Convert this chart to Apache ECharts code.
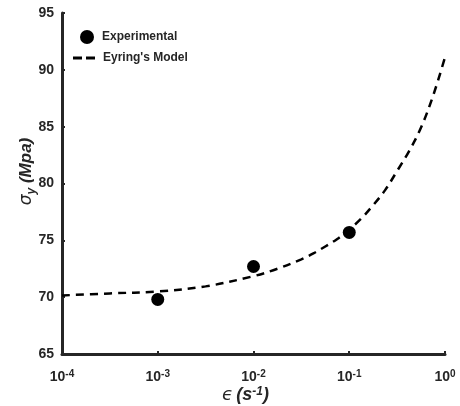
<!DOCTYPE html>
<html>
<head>
<meta charset="utf-8">
<script src="https://cdn.jsdelivr.net/npm/echarts@6/dist/echarts.min.js"></script>
<style>
  html, body { margin: 0; padding: 0; background: #ffffff; }
  #chart { width: 460px; height: 406px; }
</style>
</head>
<body>
<div id="chart"></div>
<script>
// Measured yield stress at three strain rates
const expStrainRate = [1e-3, 1e-2, 1e-1];
const expStress = [69.8, 72.7, 75.7];

// Eyring's model curve, sampled along the strain-rate range
const modelStrainRate = [1e-4, 3.16e-4, 1e-3, 3.16e-3, 1e-2, 1.78e-2, 3.16e-2, 4.22e-2, 5.62e-2, 7.5e-2,
  1e-1, 1.33e-1, 1.78e-1, 2.37e-1, 3.16e-1, 4.22e-1, 5.62e-1, 7.5e-1, 1];
const modelStress = [70.15, 70.33, 70.5, 70.95, 71.85, 72.5, 73.33, 73.85, 74.46, 75.12,
  75.95, 76.9, 78.1, 79.42, 81.1, 82.85, 84.92, 87.7, 91.1];

// Axis ticks
const yTicks = [65, 70, 75, 80, 85, 90, 95];
const xExponents = [-4, -3, -2, -1, 0];

const seriesNames = ['Experimental', "Eyring's Model"];

const ink = '#262626';
const font = '"Liberation Sans", Arial, sans-serif';

const pairs = (xs, ys) => xs.map((x, i) => [x, ys[i]]);

const legendText = { fontFamily: font, fontWeight: 'bold', fontSize: 12, color: ink };

const chart = echarts.init(document.getElementById('chart'), null, { renderer: 'canvas' });

chart.setOption({
  animation: false,
  backgroundColor: '#ffffff',
  textStyle: { fontFamily: font, color: ink },
  grid: { left: 62, right: 15, top: 13, bottom: 52, containLabel: false, outerBoundsMode: 'none' },
  legend: [
    {
      orient: 'vertical',
      left: 80,
      top: 30,
      padding: 0,
      itemWidth: 14,
      itemHeight: 14,
      textStyle: Object.assign({ padding: [0, 0, 0, 3] }, legendText),
      data: [{ name: seriesNames[0], icon: 'circle' }]
    },
    {
      orient: 'vertical',
      left: 73,
      top: 52,
      padding: 0,
      itemWidth: 22,
      itemHeight: 3,
      textStyle: Object.assign({ padding: [0, 0, 0, 3] }, legendText),
      data: [{ name: seriesNames[1], icon: 'path://M0,0h9v3h-9z M13,0h9v3h-9z', itemStyle: { color: '#000000' } }]
    }
  ],
  xAxis: {
    type: 'log',
    logBase: 10,
    min: Math.pow(10, xExponents[0]),
    max: Math.pow(10, xExponents[xExponents.length - 1]),
    name: '{e|ϵ} {n|(s}{sup|-1}{n|)}',
    nameLocation: 'middle',
    nameGap: 32,
    nameMoveOverlap: false,
    nameTextStyle: {
      padding: [0, 16, 0, 0],
      rich: {
        e: { fontFamily: '"DejaVu Sans", sans-serif', fontStyle: 'italic', fontSize: 18, color: ink, lineHeight: 18, verticalAlign: 'bottom' },
        n: { fontFamily: font, fontStyle: 'italic', fontWeight: 'bold', fontSize: 18, color: ink, lineHeight: 18, verticalAlign: 'bottom' },
        sup: { fontFamily: font, fontStyle: 'italic', fontWeight: 'bold', fontSize: 12, color: ink, lineHeight: 12, padding: [0, 0, 8, 0], verticalAlign: 'top' }
      }
    },
    axisLine: { show: true, lineStyle: { color: ink, width: 3 } },
    axisTick: { show: true, inside: true, length: 3, lineStyle: { color: ink, width: 2 } },
    minorTick: { show: false },
    splitLine: { show: false },
    axisLabel: {
      margin: 15,
      formatter: (v) => '{b|10}{s|' + Math.round(Math.log10(v)) + '}',
      rich: {
        b: { fontFamily: font, fontWeight: 'bold', fontSize: 14, color: ink, lineHeight: 15, verticalAlign: 'bottom' },
        s: { fontFamily: font, fontWeight: 'bold', fontSize: 10, color: ink, lineHeight: 10, padding: [0, 0, 7, 0], verticalAlign: 'top' }
      }
    }
  },
  yAxis: {
    type: 'value',
    min: yTicks[0],
    max: yTicks[yTicks.length - 1],
    interval: yTicks[1] - yTicks[0],
    name: '{s|σ}{sub|y}{n| (Mpa)}',
    nameLocation: 'middle',
    nameRotate: 90,
    nameGap: 24,
    nameMoveOverlap: false,
    nameTextStyle: {
      padding: [0, 0, 0, 24],
      rich: {
        s: { fontFamily: '"DejaVu Sans", sans-serif', fontStyle: 'italic', fontSize: 17, color: ink, lineHeight: 20, verticalAlign: 'top' },
        sub: { fontFamily: font, fontStyle: 'italic', fontWeight: 'bold', fontSize: 12, color: ink, lineHeight: 12, padding: [7, 0, 0, 0], verticalAlign: 'bottom' },
        n: { fontFamily: font, fontStyle: 'italic', fontWeight: 'bold', fontSize: 17, color: ink, lineHeight: 20, verticalAlign: 'top' }
      }
    },
    axisLine: { show: true, lineStyle: { color: ink, width: 3 } },
    axisTick: { show: true, inside: true, length: 3, lineStyle: { color: ink, width: 2 } },
    splitLine: { show: false },
    axisLabel: { margin: 8, fontFamily: font, fontWeight: 'bold', fontSize: 14, color: ink }
  },
  series: [
    {
      name: seriesNames[0],
      type: 'scatter',
      symbol: 'circle',
      symbolSize: 13,
      itemStyle: { color: '#000000', opacity: 1 },
      data: pairs(expStrainRate, expStress),
      z: 3
    },
    {
      name: seriesNames[1],
      type: 'line',
      smooth: 0.35,
      showSymbol: false,
      symbol: 'none',
      lineStyle: { color: '#000000', width: 2.5, type: [8, 6] },
      itemStyle: { color: '#000000' },
      data: pairs(modelStrainRate, modelStress),
      z: 2
    }
  ]
});
</script>
</body>
</html>
